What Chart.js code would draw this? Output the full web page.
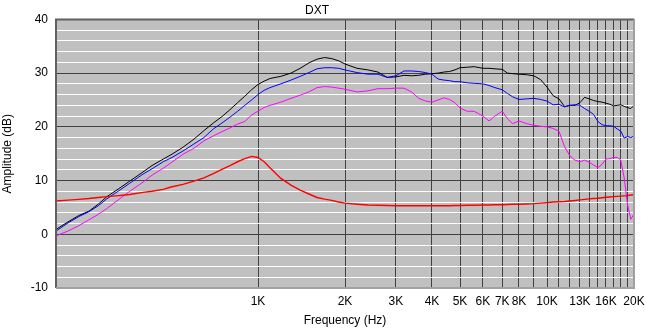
<!DOCTYPE html>
<html>
<head>
<meta charset="utf-8">
<script src="https://cdn.jsdelivr.net/npm/chart.js@4.4.0/dist/chart.umd.min.js"></script>
<style>
  html, body { margin: 0; padding: 0; background: #ffffff; }
  #wrap { width: 646px; height: 332px; position: relative; }
</style>
</head>
<body>
<div id="wrap"><canvas id="c" width="646" height="332"></canvas></div>
<script>
const chartTitle = 'DXT';
const xTitle = 'Frequency (Hz)';
const yTitle = 'Amplitude (dB)';

const freqs = [200, 220, 240, 260, 280, 300, 330, 360, 400, 430,
  470, 500, 550, 600, 650, 700, 750, 800, 850, 900,
  950, 1000, 1050, 1100, 1200, 1300, 1400, 1500, 1600, 1700,
  1800, 1900, 2000, 2200, 2400, 2600, 2800, 3000, 3200, 3400,
  3600, 3800, 4000, 4200, 4400, 4600, 4800, 5000, 5300, 5600,
  6000, 6300, 6600, 7000, 7300, 7600, 8000, 8500, 9000, 9500,
  10000, 10500, 11000, 11500, 12000, 12500, 13000, 13500, 14000, 14500,
  15000, 15500, 16000, 16500, 17000, 17500, 18000, 18500, 19000, 19500,
  20000];

const blackSeries = [0.9, 2.3, 3.5, 4.3, 5.6, 7.0, 8.5, 9.9, 11.6, 12.8,
  14.0, 14.8, 16.2, 17.7, 19.3, 20.7, 21.9, 23.2, 24.5, 25.7,
  26.9, 27.9, 28.5, 29.0, 29.4, 30.0, 30.9, 31.9, 32.6, 32.9,
  32.7, 32.3, 31.7, 30.9, 30.6, 30.2, 29.2, 29.3, 29.6, 29.5,
  29.6, 29.8, 29.9, 30.0, 30.2, 30.3, 30.6, 31.0, 31.1, 31.2,
  30.9, 30.9, 30.8, 30.7, 30.0, 29.9, 29.8, 29.7, 29.5, 28.8,
  27.4, 25.8, 25.2, 23.8, 24.0, 24.0, 24.5, 25.5, 25.2, 24.9,
  24.7, 24.6, 24.4, 24.2, 23.9, 24.0, 24.1, 23.8, 23.6, 23.4,
  24.0];

const blueSeries = [0.6, 2.1, 3.3, 4.2, 5.3, 6.6, 8.1, 9.5, 11.2, 12.2,
  13.5, 14.2, 15.5, 16.8, 18.0, 19.6, 20.7, 21.8, 22.9, 24.0,
  25.0, 26.0, 26.8, 27.3, 28.0, 28.7, 29.4, 30.1, 30.8, 31.0,
  31.0, 30.9, 30.6, 30.1, 29.8, 29.8, 29.2, 29.5, 30.4, 30.4,
  30.3, 30.1, 29.8, 28.9, 28.7, 28.6, 28.4, 28.4, 28.2, 28.1,
  28.0, 27.7, 27.3, 26.9, 26.2, 25.6, 25.1, 25.2, 25.3, 25.1,
  24.8, 24.1, 24.2, 23.7, 24.0, 24.1, 24.0, 23.4, 22.9, 22.3,
  21.0, 20.4, 20.2, 20.2, 20.1, 19.6, 19.2, 17.9, 18.2, 18.0,
  18.3];

const magentaSeries = [-0.3, 0.6, 1.6, 2.7, 3.7, 4.8, 6.5, 8.0, 9.7, 11.0,
  12.3, 13.3, 14.9, 16.0, 17.4, 18.3, 19.1, 19.8, 20.5, 21.0,
  22.2, 22.9, 23.6, 24.0, 24.6, 25.3, 25.9, 26.5, 27.3, 27.5,
  27.4, 27.2, 27.0, 26.5, 26.7, 27.1, 27.1, 27.2, 27.2, 26.5,
  25.3, 24.8, 24.6, 25.0, 25.4, 25.1, 24.5, 23.5, 22.9, 22.9,
  22.0, 21.1, 22.0, 22.9, 21.5, 20.6, 21.1, 20.6, 20.3, 20.1,
  20.0, 19.7, 19.2, 16.3, 14.6, 13.8, 13.5, 13.8, 13.4, 12.9,
  12.4, 13.0, 14.0, 14.1, 14.3, 14.3, 13.8, 10.5, 5.5, 2.8,
  3.8];

const redSeries = [6.2, 6.35, 6.5, 6.65, 6.85, 7.0, 7.2, 7.4, 7.8, 8.0,
  8.35, 8.8, 9.3, 9.9, 10.5, 11.3, 12.1, 12.8, 13.5, 14.1,
  14.5, 14.3, 13.5, 12.4, 10.4, 9.15, 8.2, 7.5, 6.85, 6.55,
  6.3, 6.0, 5.8, 5.6, 5.45, 5.4, 5.35, 5.3, 5.3, 5.3,
  5.3, 5.3, 5.3, 5.3, 5.3, 5.3, 5.35, 5.35, 5.4, 5.4,
  5.45, 5.45, 5.5, 5.5, 5.55, 5.6, 5.6, 5.65, 5.7, 5.8,
  5.9, 6.0, 6.05, 6.1, 6.2, 6.3, 6.4, 6.5, 6.6, 6.65,
  6.7, 6.8, 6.9, 6.95, 7.0, 7.05, 7.1, 7.15, 7.2, 7.3,
  7.35];

const xGridTicks = [1000, 2000, 3000, 4000, 5000, 6000, 7000, 8000, 9000, 10000,
  11000, 12000, 13000, 14000, 15000, 16000, 17000, 18000, 19000, 20000];
const xLabelTicks = [1000, 2000, 3000, 4000, 5000, 6000, 7000, 8000, 10000, 13000, 16000, 20000];
const xLabelText = ['1K', '2K', '3K', '4K', '5K', '6K', '7K', '8K', '10K', '13K', '16K', '20K'];

const yMin = -10, yMax = 40, yStep = 2, yMajor = 10;
const xMin = 200, xMax = 20000;

function pts(arr) { return freqs.map((f, i) => ({ x: f, y: arr[i] })); }

const FONT = "'Liberation Sans', Arial, sans-serif";

const plotFrame = {
  id: 'plotFrame',
  beforeDraw(chart) {
    const a = chart.chartArea, ctx = chart.ctx;
    ctx.save();
    ctx.fillStyle = '#C0C0C0';
    ctx.fillRect(a.left, a.top, a.right - a.left, a.bottom - a.top);
    ctx.restore();
  },
  afterDraw(chart) {
    const a = chart.chartArea, ctx = chart.ctx;
    ctx.save();
    ctx.lineWidth = 2;
    ctx.strokeStyle = '#606060';
    ctx.beginPath();
    ctx.moveTo(a.left, a.bottom);
    ctx.lineTo(a.left, a.top);
    ctx.lineTo(a.right, a.top);
    ctx.stroke();
    ctx.strokeStyle = '#A0A0A0';
    ctx.beginPath();
    ctx.moveTo(a.right, a.top);
    ctx.lineTo(a.right, a.bottom);
    ctx.lineTo(a.left, a.bottom);
    ctx.stroke();
    ctx.restore();
  }
};

const ds = (label, arr, color, w) => ({
  label, data: pts(arr), borderColor: color, backgroundColor: color,
  borderWidth: w, pointRadius: 0, tension: 0, fill: false
});

new Chart(document.getElementById('c'), {
  type: 'line',
  data: {
    datasets: [
      ds('Red', redSeries, '#FF0000', 1.4),
      ds('Magenta', magentaSeries, '#FF00FF', 1),
      ds('Blue', blueSeries, '#0000FF', 1),
      ds('Black', blackSeries, '#000000', 1)
    ]
  },
  options: {
    responsive: false,
    animation: false,
    devicePixelRatio: 1,
    layout: { padding: { left: 0, right: 12, top: 0, bottom: 4 } },
    plugins: {
      legend: { display: false },
      tooltip: { enabled: false },
      title: {
        display: true, text: chartTitle, color: '#000',
        font: { family: FONT, size: 12, weight: 'normal' },
        padding: { top: 3, bottom: 2 }
      }
    },
    scales: {
      x: {
        type: 'logarithmic', min: xMin, max: xMax,
        afterBuildTicks(scale) { scale.ticks = xGridTicks.map(v => ({ value: v })); },
        afterFit(scale) { scale.height = 40; scale.paddingRight = 0; scale.paddingLeft = 0; },
        ticks: {
          autoSkip: false, maxRotation: 0, minRotation: 0, padding: 6, color: '#000',
          font: { family: FONT, size: 12 },
          callback(v) { const i = xLabelTicks.indexOf(v); return i >= 0 ? xLabelText[i] : ''; }
        },
        grid: { color: '#404040', lineWidth: 1, drawTicks: false },
        border: { display: false },
        title: { display: true, text: xTitle, color: '#000', font: { family: FONT, size: 12 }, padding: { top: 2, bottom: 0 } }
      },
      y: {
        type: 'linear', min: yMin, max: yMax,
        afterFit(scale) { scale.width = 56; },
        ticks: {
          stepSize: yStep, autoSkip: false, padding: 8, color: '#000',
          font: { family: FONT, size: 12 },
          callback(v) { return v % yMajor === 0 ? String(v) : ''; }
        },
        grid: {
          drawTicks: false, lineWidth: 1,
          color(c) { return (c.tick && c.tick.value % yMajor === 0) ? '#404040' : '#FFFFFF'; }
        },
        border: { display: false },
        title: { display: true, text: yTitle, color: '#000', font: { family: FONT, size: 12 }, padding: { top: 0, bottom: 4 } }
      }
    }
  },
  plugins: [plotFrame]
});
</script>
</body>
</html>
